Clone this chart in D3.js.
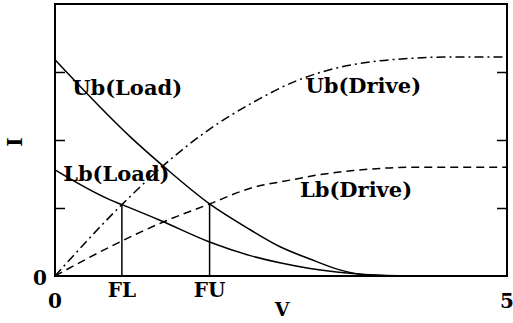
<!DOCTYPE html>
<html>
<head>
<meta charset="utf-8">
<script src="https://cdn.jsdelivr.net/npm/d3@7"></script>
<style>
  html, body { margin: 0; padding: 0; background: #fff; }
  svg { display: block; }
  text { font-family: "DejaVu Serif", "Liberation Serif", serif; font-weight: bold; fill: #000; }
</style>
</head>
<body>
<svg id="chart" width="513" height="323"></svg>
<script>
// Voltage (V) and current (I) samples for the four bounding curves
const ubLoad  = [[0, 3.18], [0.83, 2.05], [1.22, 1.59], [1.71, 1.06], [2.16, 0.68], [2.49, 0.43], [2.82, 0.25], [3.15, 0.09], [3.45, 0.015], [3.8, 0]];
const lbLoad  = [[0, 1.56], [0.61, 1.12], [0.74, 1.05], [1.16, 0.82], [1.71, 0.5], [2.16, 0.3], [2.5, 0.19], [2.82, 0.11], [3.26, 0.04], [3.6, 0.01], [3.9, 0]];
const ubDrive = [[0, 0], [0.74, 1.05], [1.31, 1.75], [1.7, 2.15], [2.16, 2.53], [2.67, 2.87], [3.12, 3.06], [3.5, 3.15], [3.93, 3.2], [4.3, 3.22], [5, 3.22]];
const lbDrive = [[0, 0], [0.61, 0.43], [1.19, 0.79], [1.71, 1.06], [2.16, 1.29], [2.6, 1.41], [2.93, 1.49], [3.3, 1.55], [3.7, 1.59], [4.0, 1.6], [5, 1.6]];

// Operating points where load and drive curves cross
const markerNames = ["FL", "FU"];
const markerV = [0.74, 1.71];
const markerI = [1.05, 1.06];

// Curve names and their label anchors (V, I)
const curveNames = ["Ub(Load)", "Lb(Load)", "Ub(Drive)", "Lb(Drive)"];
const labelV = [0.19, 0.09, 2.77, 2.71];
const labelI = [2.66, 1.39, 2.69, 1.16];

const yTicks = [1, 2, 3];
const xTickLabels = [0, 5];

const svg = d3.select("#chart");
const x = d3.scaleLinear().domain([0, 5]).range([55, 507]);
const y = d3.scaleLinear().domain([0, 4]).range([276, 4]);

const line = d3.line().x(d => x(d[0])).y(d => y(d[1])).curve(d3.curveMonotoneX);

// Plot frame
svg.append("rect")
  .attr("x", x(0)).attr("y", y(4))
  .attr("width", x(5) - x(0)).attr("height", y(0) - y(4))
  .attr("fill", "none").attr("stroke", "#000").attr("stroke-width", 2);

// Inward ticks on left and right edges
const leftAxis = d3.axisRight(y).tickValues(yTicks).tickSize(10).tickFormat("");
const rightAxis = d3.axisLeft(y).tickValues(yTicks).tickSize(10).tickFormat("");
svg.append("g").attr("transform", `translate(${x(0)},0)`).call(leftAxis)
  .call(g => g.select(".domain").remove())
  .selectAll("line").attr("stroke-width", 1.5);
svg.append("g").attr("transform", `translate(${x(5)},0)`).call(rightAxis)
  .call(g => g.select(".domain").remove())
  .selectAll("line").attr("stroke-width", 1.5);

// Curves
const styles = [
  { data: ubLoad, dash: null },
  { data: lbLoad, dash: null },
  { data: ubDrive, dash: "9,4,2,4" },
  { data: lbDrive, dash: "8,5" }
];
styles.forEach(s => {
  svg.append("path")
    .attr("d", line(s.data))
    .attr("fill", "none")
    .attr("stroke", "#000")
    .attr("stroke-width", 1.5)
    .attr("stroke-dasharray", s.dash);
});

// Vertical drop lines at the crossing points
markerV.forEach((v, i) => {
  svg.append("line")
    .attr("x1", x(v)).attr("x2", x(v))
    .attr("y1", y(0)).attr("y2", y(markerI[i]))
    .attr("stroke", "#000").attr("stroke-width", 1.5);
  svg.append("text")
    .attr("x", x(v)).attr("y", 297)
    .attr("text-anchor", "middle")
    .attr("font-size", 20)
    .text(markerNames[i]);
});

// Curve labels
curveNames.forEach((n, i) => {
  svg.append("text")
    .attr("x", x(labelV[i])).attr("y", y(labelI[i]))
    .attr("font-size", 21)
    .text(n);
});

// Axis value labels
svg.append("text").attr("x", 40).attr("y", 285).attr("text-anchor", "middle").attr("font-size", 20).text("0");
xTickLabels.forEach(v => {
  svg.append("text").attr("x", x(v)).attr("y", 308).attr("text-anchor", "middle").attr("font-size", 20).text(v);
});

// Axis titles
svg.append("text").attr("x", 282).attr("y", 316).attr("text-anchor", "middle").attr("font-size", 19).text("V");
svg.append("text")
  .attr("transform", "translate(22,142) rotate(-90)")
  .attr("text-anchor", "middle").attr("font-size", 20).text("I");
</script>
</body>
</html>
